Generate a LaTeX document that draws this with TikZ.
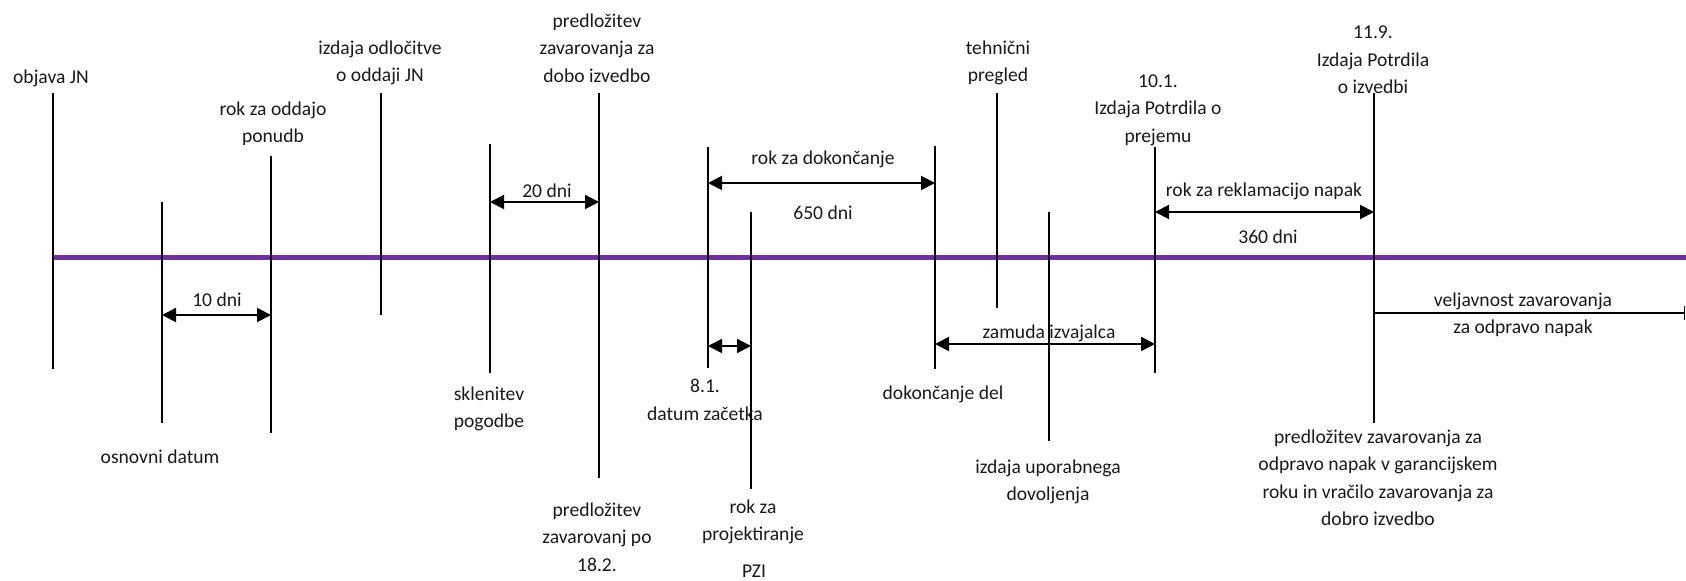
\documentclass[tikz,border=0pt]{standalone}
\usepackage{fontspec}
\setmainfont{Carlito}
\usetikzlibrary{arrows.meta}
\definecolor{tlpurple}{RGB}{112,48,160}
\tikzset{
  lbl/.style={font=\fontsize{9.8}{13.75}\selectfont, text=black!90, align=center, inner sep=0pt, anchor=center},
  tick/.style={draw=black, line width=0.6pt},
  span/.style={draw=black, line width=1pt, {Triangle[length=7pt,width=7pt]}-{Triangle[length=7pt,width=7pt]}},
  open/.style={draw=black, line width=0.7pt, -{Bar[width=7pt]}},
  axis/.style={draw=tlpurple, line width=2.5pt}
}
\begin{document}
\begin{tikzpicture}[x=0.5pt,y=-0.5pt]
\useasboundingbox (0,0) rectangle (1686,581);
% timeline
\coordinate (ax0) at (53,258);
\coordinate (ax1) at (1686,258);
\draw[axis] (ax0) -- (ax1);
% vertical ticks: top and bottom coordinates
\coordinate (t1) at (53,93);    \coordinate (b1) at (53,369);
\coordinate (t2) at (162,202);  \coordinate (b2) at (162,423);
\coordinate (t3) at (271,156);  \coordinate (b3) at (271,433);
\coordinate (t4) at (381,93);   \coordinate (b4) at (381,315);
\coordinate (t5) at (490,144);  \coordinate (b5) at (490,373);
\coordinate (t6) at (599,93);   \coordinate (b6) at (599,478);
\coordinate (t7) at (708,147);  \coordinate (b7) at (708,368);
\coordinate (t8) at (751,212);  \coordinate (b8) at (751,489);
\coordinate (t9) at (935,146);  \coordinate (b9) at (935,369);
\coordinate (t10) at (997,93);  \coordinate (b10) at (997,308);
\coordinate (t11) at (1049,212);\coordinate (b11) at (1049,441);
\coordinate (t12) at (1155,147);\coordinate (b12) at (1155,373);
\coordinate (t13) at (1374,93); \coordinate (b13) at (1374,423);
\foreach \i in {1,...,13} { \draw[tick] (t\i) -- (b\i); }
% labels
\node[lbl] (l1) at (51,78) {objava JN};
\node[lbl] (l2) at (160,457) {osnovni datum};
\node[lbl] (l3) at (273,124) {rok za oddajo\\ponudb};
\node[lbl] (l4) at (380,63) {izdaja odločitve\\o oddaji JN};
\node[lbl] (l5) at (489,409) {sklenitev\\pogodbe};
\node[lbl] (l6a) at (597,48) {predložitev\\zavarovanja za\\dobo izvedbo};
\node[lbl] (l6b) at (597,537) {predložitev\\zavarovanj po\\18.2.};
\node[lbl] (l7) at (705,400) {8.1.\\datum začetka};
\node[lbl] (l8a) at (753,522) {rok za\\projektiranje};
\node[lbl] (l8b) at (754,571) {PZI};
\node[lbl] (l9) at (943,394) {dokončanje del};
\node[lbl] (l10) at (998,63) {tehnični\\pregled};
\node[lbl] (l11) at (1048,482) {izdaja uporabnega\\dovoljenja};
\node[lbl] (l12) at (1158,110) {10.1.\\Izdaja Potrdila o\\prejemu};
\node[lbl] (l13a) at (1373,60) {11.9.\\Izdaja Potrdila\\o izvedbi};
\node[lbl] (l13b) at (1378,478) {predložitev zavarovanja za\\odpravo napak v garancijskem\\roku in vračilo zavarovanja za\\dobro izvedbo};
% spans
\coordinate (s1a) at (162,315); \coordinate (s1b) at (271,315);
\draw[span] (s1a) -- (s1b);
\node[lbl] (d1) at (217,300) {10 dni};
\coordinate (s2a) at (490,202); \coordinate (s2b) at (599,202);
\draw[span] (s2a) -- (s2b);
\node[lbl] (d2) at (547,191) {20 dni};
\coordinate (s3a) at (708,183); \coordinate (s3b) at (935,183);
\draw[span] (s3a) -- (s3b);
\node[lbl] (d3a) at (823,159) {rok za dokončanje};
\node[lbl] (d3b) at (823,213) {650 dni};
\coordinate (s4a) at (708,346); \coordinate (s4b) at (751,346);
\draw[span] (s4a) -- (s4b);
\coordinate (s5a) at (935,344); \coordinate (s5b) at (1155,344);
\draw[span] (s5a) -- (s5b);
\node[lbl] (d5) at (1049,333) {zamuda izvajalca};
\coordinate (s6a) at (1155,212); \coordinate (s6b) at (1374,212);
\draw[span] (s6a) -- (s6b);
\node[lbl] (d6a) at (1264,191) {rok za reklamacijo napak};
\node[lbl] (d6b) at (1268,237) {360 dni};
\coordinate (s7a) at (1374,313); \coordinate (s7b) at (1685,313);
\draw[open] (s7a) -- (s7b);
\node[lbl] (d7) at (1523,315) {veljavnost zavarovanja\\za odpravo napak};
\end{tikzpicture}
\end{document}
